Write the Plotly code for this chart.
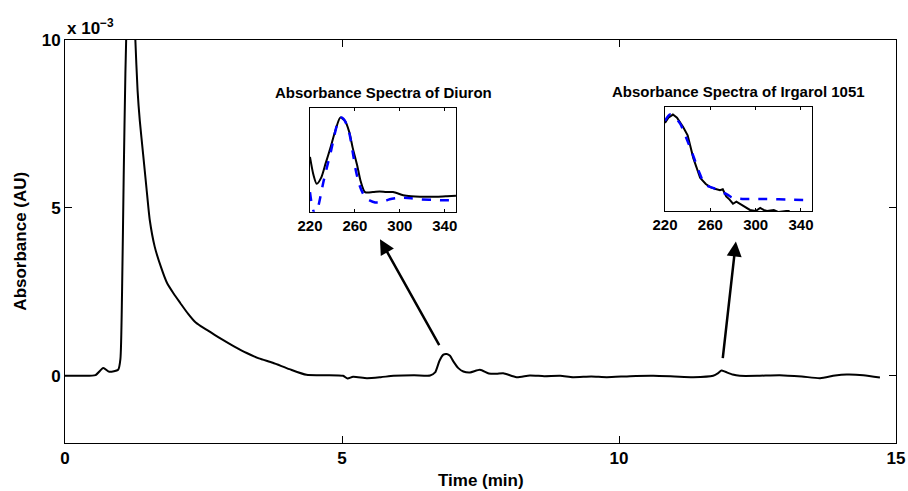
import plotly.graph_objects as go

# Main chromatogram (absorbance in units of 1e-3 AU)
time_min = [0, 0.3, 0.55, 0.69, 0.8, 0.96, 1.0, 1.03, 1.06, 1.09, 1.12, 1.17, 1.22, 1.27, 1.31,
            1.35, 1.41, 1.47, 1.53, 1.62, 1.73, 1.84, 1.96, 2.08, 2.22, 2.35, 2.45, 2.56, 2.7,
            2.85, 3.05, 3.28, 3.5, 3.75, 4.05, 4.36, 4.7, 5.02, 5.1, 5.2, 5.45, 5.7, 5.93, 6.3,
            6.59, 6.68, 6.76, 6.83, 6.89, 6.95, 7.01, 7.1, 7.19, 7.31, 7.49, 7.65, 7.79, 7.91,
            8.15, 8.39, 8.65, 8.94, 9.17, 9.5, 9.78, 10.2, 10.62, 11.0, 11.34, 11.7, 11.79,
            11.85, 11.92, 12.05, 12.18, 12.5, 12.9, 13.3, 13.63, 13.9, 14.11, 14.41, 14.71]
absorbance = [0, 0.0, 0.02, 0.23, 0.12, 0.18, 0.5, 2.5, 6, 9, 11, 13, 12.5, 10, 8.5,
              7.6, 6.6, 5.6, 4.64, 3.84, 3.25, 2.77, 2.45, 2.17, 1.85, 1.6, 1.48, 1.37, 1.22,
              1.07, 0.88, 0.68, 0.52, 0.39, 0.2, 0.03, 0.02, 0.0, -0.08, -0.03, -0.07, -0.04, 0.0, 0.02,
              0.01, 0.1, 0.45, 0.63, 0.65, 0.6, 0.43, 0.23, 0.13, 0.1, 0.18, 0.07, 0.06, 0.08,
              -0.04, 0.01, -0.01, 0.0, -0.04, -0.02, -0.04, -0.01, 0.0, -0.02, -0.04, 0.0, 0.08,
              0.16, 0.12, 0.04, 0.0, 0.0, 0.02, -0.02, -0.07, 0.01, 0.04, 0.02, -0.05]

# Diuron spectra (normalised)
diuron_wl = [220, 223, 226, 230, 234, 238, 243, 247, 251, 255, 258, 262, 265, 269, 276, 282,
             288, 294, 303, 310, 318, 325, 333, 342, 350]
diuron_meas = [0.53, 0.36, 0.27, 0.33, 0.47, 0.61, 0.8, 0.91, 0.88, 0.77, 0.62, 0.45, 0.3, 0.19,
               0.19, 0.195, 0.19, 0.19, 0.16, 0.15, 0.145, 0.145, 0.145, 0.15, 0.155]
diuron_ref_wl = [220, 222, 225, 228, 232, 236, 239, 242, 245, 248, 251, 255, 258, 261, 264, 267,
                 270, 273, 278, 282, 286, 291, 296, 301, 310, 318, 330, 340, 350]
diuron_ref = [0.19, 0.05, -0.04, 0.08, 0.29, 0.47, 0.6, 0.75, 0.87, 0.91, 0.88, 0.76, 0.58, 0.39,
              0.26, 0.18, 0.13, 0.11, 0.09, 0.09, 0.1, 0.12, 0.13, 0.135, 0.13, 0.12, 0.115, 0.11, 0.11]

# Irgarol 1051 spectra (normalised)
irgarol_wl = [220, 223, 227, 230.6, 236, 240, 245, 251, 256, 260, 264, 268.5, 271, 274, 277, 280,
              283, 286, 290, 295, 300, 304, 307, 310, 316, 320, 327, 330]
irgarol_meas = [0.85, 0.9, 0.93, 0.9, 0.81, 0.73, 0.51, 0.32, 0.26, 0.23, 0.215, 0.2, 0.21, 0.14,
                0.11, 0.07, 0.09, 0.07, 0.04, 0.01, 0.0, 0.03, 0.01, 0.0, 0.01, -0.01, 0.0, 0.0]
irgarol_ref_wl = [220, 224.4, 229, 233.5, 239, 245, 250, 254, 258, 263, 268, 274.7, 279, 283.5,
                  290, 295, 310, 330, 350]
irgarol_ref = [0.87, 0.93, 0.9, 0.84, 0.7, 0.53, 0.38, 0.28, 0.24, 0.22, 0.19, 0.16, 0.13, 0.12,
               0.115, 0.115, 0.115, 0.11, 0.105]

x_ticks = [0, 5, 10, 15]
y_ticks = [0, 5, 10]
inset_ticks = [220, 260, 300, 340]

FONT = "Liberation Sans, Arial, Helvetica, sans-serif"

fig = go.Figure()
fig.add_trace(go.Scatter(x=time_min, y=absorbance, mode="lines",
                         line=dict(color="black", width=2, shape="spline", smoothing=0.6),
                         showlegend=False))
fig.add_trace(go.Scatter(x=diuron_wl, y=diuron_meas, mode="lines", xaxis="x2", yaxis="y2",
                         line=dict(color="black", width=2, shape="spline", smoothing=0.7),
                         showlegend=False))
fig.add_trace(go.Scatter(x=diuron_ref_wl, y=diuron_ref, mode="lines", xaxis="x2", yaxis="y2",
                         line=dict(color="#0000ff", width=2.5, dash="dash", shape="spline",
                                   smoothing=0.7), showlegend=False))
fig.add_trace(go.Scatter(x=irgarol_wl, y=irgarol_meas, mode="lines", xaxis="x3", yaxis="y3",
                         line=dict(color="black", width=2), showlegend=False))
fig.add_trace(go.Scatter(x=irgarol_ref_wl, y=irgarol_ref, mode="lines", xaxis="x3", yaxis="y3",
                         line=dict(color="#0000ff", width=2.5, dash="dash", shape="spline",
                                   smoothing=0.7), showlegend=False))

axis_common = dict(showgrid=False, zeroline=False, showline=True, linecolor="black",
                   linewidth=1, mirror="ticks", ticks="inside", tickcolor="black",
                   automargin=False)

fig.update_layout(
    template="none",
    width=908, height=491,
    margin=dict(l=65, r=12, t=40, b=48, autoexpand=False),
    plot_bgcolor="white", paper_bgcolor="white",
    font=dict(family=FONT, color="black"),
    xaxis=dict(range=[0, 15], tickvals=x_ticks, ticklen=7,
               tickfont=dict(size=17, weight="bold"), **axis_common),
    yaxis=dict(range=[-2, 10], tickvals=y_ticks, ticklen=7,
               tickfont=dict(size=17, weight="bold"), **axis_common),
    xaxis2=dict(domain=[0.2948, 0.4705], anchor="y2", range=[220, 350], tickvals=inset_ticks,
                ticklen=3, tickfont=dict(size=15, weight="bold"), **axis_common),
    yaxis2=dict(domain=[0.5739, 0.8305], anchor="x2", range=[0, 1], showticklabels=False,
                tickvals=[], **axis_common),
    xaxis3=dict(domain=[0.7220, 0.8993], anchor="y3", range=[220, 350], tickvals=inset_ticks,
                ticklen=3, tickfont=dict(size=15, weight="bold"), **axis_common),
    yaxis3=dict(domain=[0.5757, 0.8330], anchor="x3", range=[0, 1], showticklabels=False,
                tickvals=[], **axis_common),
)

annotations = [
    dict(text="Time (min)", xref="paper", yref="paper", x=0.5, y=-0.094, xanchor="center",
         yanchor="middle", showarrow=False, font=dict(size=17, weight="bold")),
    dict(text="Absorbance (AU)", xref="paper", yref="paper", x=-0.054, y=0.5, textangle=-90,
         xanchor="center", yanchor="middle", showarrow=False, font=dict(size=17, weight="bold")),
    dict(text="x 10<sup>−3</sup>", xref="paper", yref="paper", x=0.0, y=1.0, xanchor="left",
         yanchor="bottom", showarrow=False, font=dict(size=17, weight="bold")),
    dict(text="Absorbance Spectra of Diuron", xref="paper", yref="paper", x=0.3827, y=0.8685,
         xanchor="center", yanchor="middle", showarrow=False, font=dict(size=15, weight="bold")),
    dict(text="Absorbance Spectra of Irgarol 1051", xref="paper", yref="paper", x=0.811, y=0.871,
         xanchor="center", yanchor="middle", showarrow=False, font=dict(size=15, weight="bold")),
    dict(text="", x=5.686, y=4.07, ax=6.77, ay=0.87, xref="x", yref="y", axref="x", ayref="y",
         showarrow=True, arrowhead=2, arrowsize=1.2, arrowwidth=2.5, arrowcolor="black"),
    dict(text="", x=12.11, y=4.0, ax=11.87, ay=0.48, xref="x", yref="y", axref="x", ayref="y",
         showarrow=True, arrowhead=2, arrowsize=1.2, arrowwidth=2.5, arrowcolor="black"),
]
fig.update_layout(annotations=annotations)

fig.write_html("out.html")
